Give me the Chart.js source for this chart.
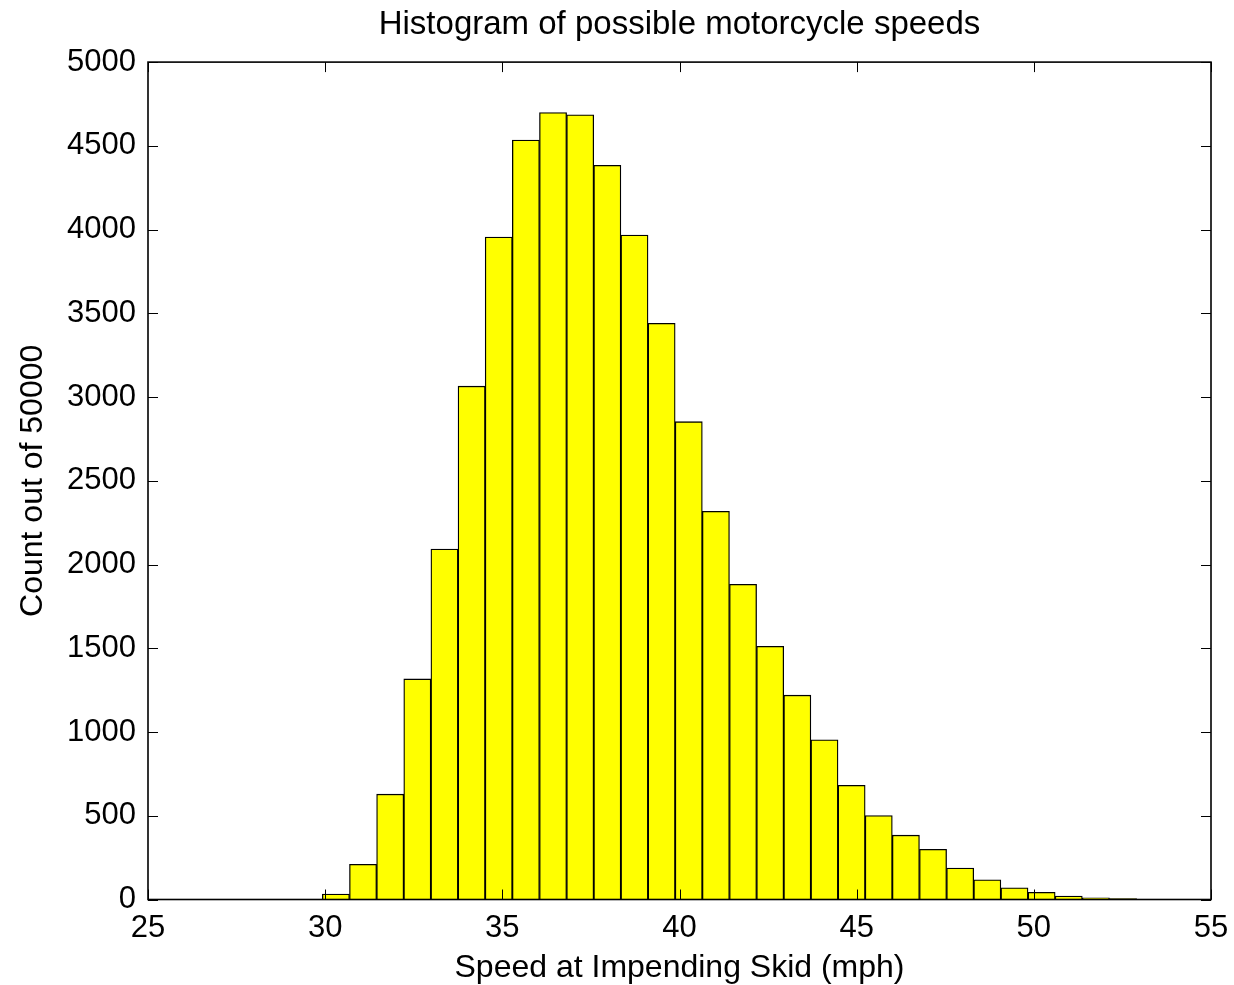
<!DOCTYPE html>
<html>
<head>
<meta charset="utf-8">
<title>Histogram of possible motorcycle speeds</title>
<script src="https://cdn.jsdelivr.net/npm/chart.js@4.4.1/dist/chart.umd.min.js"></script>
<style>
    html, body { margin: 0; padding: 0; background: #fff; }
    canvas { display: block; }
</style>
</head>
<body>
<canvas id="speed-histogram" width="1234" height="985"></canvas>
<script>
    'use strict';

    // bin centres (mph) of the 30 histogram bins
    var binCentres = [
        30.303, 31.069, 31.835, 32.601, 33.367, 34.133, 34.899, 35.665, 36.431, 37.197,
        37.963, 38.729, 39.495, 40.261, 41.027, 41.793, 42.559, 43.325, 44.091, 44.857,
        45.623, 46.389, 47.155, 47.921, 48.687, 49.453, 50.219, 50.985, 51.751, 52.517
    ];

    // count per bin, out of 50000 samples
    var binCounts = [
        33, 210, 629, 1317, 2093, 3065, 3955, 4535, 4699, 4685,
        4384, 3967, 3440, 2853, 2318, 1882, 1512, 1220, 953, 682,
        501, 384, 300, 188, 117, 70, 43, 21, 10, 5
    ];

    var xTicks = [25, 30, 35, 40, 45, 50, 55];
    var yTicks = [0, 500, 1000, 1500, 2000, 2500, 3000, 3500, 4000, 4500, 5000];

    var FONT = 'Liberation Sans, Arial, Helvetica, sans-serif',
        TICK_LEN = 10;

    Chart.defaults.font.family = FONT;
    Chart.defaults.color = '#000';

    var useTicks = function (values) {
            return function (scale) {
                scale.ticks = values.map(function (v) { return { value: v }; });
            };
        },

        plainNumber = function (value) {
            return String(value);
        },

        // MATLAB style box with ticks pointing into the plot on all four sides
        axisBox = {
            id: 'axisBox',
            afterDatasetsDraw: function (chart) {
                var ctx = chart.ctx,
                    area = chart.chartArea,
                    xs = chart.scales.x,
                    ys = chart.scales.y;

                ctx.save();
                ctx.strokeStyle = '#000';
                ctx.lineWidth = 1;
                ctx.beginPath();

                xs.ticks.forEach(function (t) {
                    var px = Math.round(xs.getPixelForValue(t.value)) + 0.5;
                    ctx.moveTo(px, area.bottom);
                    ctx.lineTo(px, area.bottom - TICK_LEN);
                    ctx.moveTo(px, area.top);
                    ctx.lineTo(px, area.top + TICK_LEN);
                });

                ys.ticks.forEach(function (t) {
                    var py = Math.round(ys.getPixelForValue(t.value)) + 0.5;
                    ctx.moveTo(area.left, py);
                    ctx.lineTo(area.left + TICK_LEN, py);
                    ctx.moveTo(area.right, py);
                    ctx.lineTo(area.right - TICK_LEN, py);
                });

                ctx.stroke();
                ctx.lineWidth = 1.6;
                ctx.strokeRect(area.left, area.top, area.width, area.height);
                ctx.restore();
            }
        };

    new Chart(document.getElementById('speed-histogram').getContext('2d'), {
        type: 'bar',
        data: {
            datasets: [{
                data: binCentres.map(function (c, i) {
                    return { x: c, y: binCounts[i] };
                }),
                backgroundColor: '#ffff00',
                borderColor: '#000',
                borderWidth: 1.3,
                borderSkipped: 'start',
                barPercentage: 1,
                categoryPercentage: 1
            }]
        },
        options: {
            responsive: false,
            animation: false,
            events: [],
            layout: { padding: { left: 0, right: 23, top: 0, bottom: 0 } },
            plugins: {
                legend: { display: false },
                tooltip: { enabled: false },
                title: {
                    display: true,
                    fullSize: false,
                    text: 'Histogram of possible motorcycle speeds',
                    color: '#000',
                    font: { size: 33, weight: 'normal', lineHeight: 1.2 },
                    padding: { top: 5, bottom: 17.5 }
                }
            },
            scales: {
                x: {
                    type: 'linear',
                    min: 25,
                    max: 55,
                    offset: false,
                    grid: { display: false, drawTicks: false, offset: false },
                    border: { display: false },
                    afterBuildTicks: useTicks(xTicks),
                    afterFit: function (scale) {
                        scale.height = 85.5;
                        // end labels may hang past the box, like MATLAB does
                        scale.paddingLeft = 0;
                        scale.paddingRight = 0;
                    },
                    ticks: {
                        padding: 10,
                        maxRotation: 0,
                        callback: plainNumber,
                        font: { size: 31, lineHeight: 1.2 }
                    },
                    title: {
                        display: true,
                        text: 'Speed at Impending Skid (mph)',
                        font: { size: 32, lineHeight: 1.2 },
                        padding: { top: 0, bottom: -2 }
                    }
                },
                y: {
                    min: 0,
                    max: 5000,
                    grid: { display: false, drawTicks: false },
                    border: { display: false },
                    afterBuildTicks: useTicks(yTicks),
                    afterFit: function (scale) {
                        scale.width = 148;
                        scale.paddingTop = 0;
                        scale.paddingBottom = 0;
                    },
                    ticks: {
                        padding: 12,
                        callback: plainNumber,
                        font: { size: 31, lineHeight: 1.2 }
                    },
                    title: {
                        display: true,
                        text: 'Count out of 50000',
                        font: { size: 32, lineHeight: 1.2 },
                        padding: { top: 14, bottom: 0 }
                    }
                }
            }
        },
        plugins: [axisBox]
    });
</script>
</body>
</html>
